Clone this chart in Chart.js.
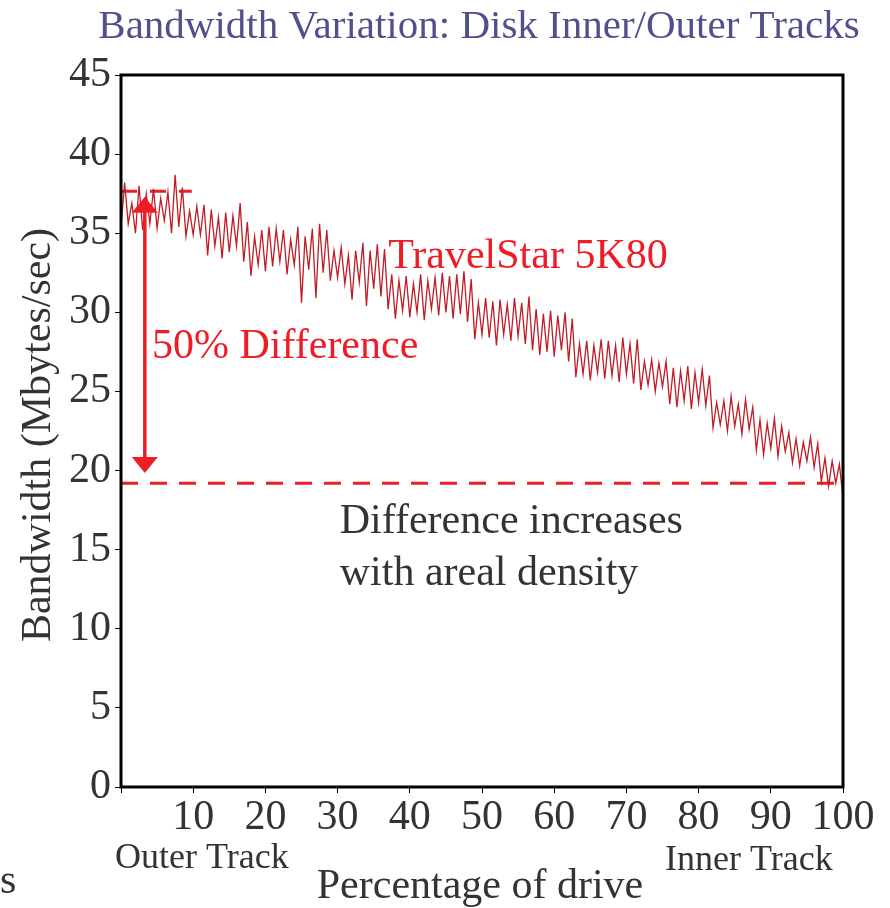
<!DOCTYPE html>
<html>
<head>
<meta charset="utf-8">
<script src="https://cdn.jsdelivr.net/npm/chart.js@4/dist/chart.umd.min.js"></script>
<style>
  html, body { margin: 0; padding: 0; background: #fff; }
  canvas { display: block; }
</style>
</head>
<body>
<canvas id="bw" width="890" height="908"></canvas>
<script>
const pct = [
  0, 0.5, 1, 1.5, 2, 2.5, 3, 3.5, 4, 4.5, 5, 5.5, 6, 6.5, 7, 7.5, 8, 8.5, 9, 9.5,
  10, 10.5, 11, 11.5, 12, 12.5, 13, 13.5, 14, 14.5, 15, 15.5, 16, 16.5, 17, 17.5, 18, 18.5, 19, 19.5,
  20, 20.5, 21, 21.5, 22, 22.5, 23, 23.5, 24, 24.5, 25, 25.5, 26, 26.5, 27, 27.5, 28, 28.5, 29, 29.5,
  30, 30.5, 31, 31.5, 32, 32.5, 33, 33.5, 34, 34.5, 35, 35.5, 36, 36.5, 37, 37.5, 38, 38.5, 39, 39.5,
  40, 40.5, 41, 41.5, 42, 42.5, 43, 43.5, 44, 44.5, 45, 45.5, 46, 46.5, 47, 47.5, 48, 48.5, 49, 49.5,
  50, 50.5, 51, 51.5, 52, 52.5, 53, 53.5, 54, 54.5, 55, 55.5, 56, 56.5, 57, 57.5, 58, 58.5, 59, 59.5,
  60, 60.5, 61, 61.5, 62, 62.5, 63, 63.5, 64, 64.5, 65, 65.5, 66, 66.5, 67, 67.5, 68, 68.5, 69, 69.5,
  70, 70.5, 71, 71.5, 72, 72.5, 73, 73.5, 74, 74.5, 75, 75.5, 76, 76.5, 77, 77.5, 78, 78.5, 79, 79.5,
  80, 80.5, 81, 81.5, 82, 82.5, 83, 83.5, 84, 84.5, 85, 85.5, 86, 86.5, 87, 87.5, 88, 88.5, 89, 89.5,
  90, 90.5, 91, 91.5, 92, 92.5, 93, 93.5, 94, 94.5, 95, 95.5, 96, 96.5, 97, 97.5, 98, 98.5, 99, 99.5, 100
];
const bandwidth = [
  35.4, 38.2, 35.6, 36.9, 35.0, 38.0, 35.2, 37.5, 35.6, 37.8, 35.3, 37.2, 35.8, 37.6, 35.0, 38.7, 35.4, 37.9, 34.8, 36.4,
  34.9, 36.7, 34.9, 36.8, 33.6, 36.5, 34.2, 36.0, 33.4, 36.3, 33.8, 36.1, 34.2, 36.9, 33.2, 35.7, 32.3, 34.8, 33.0, 35.2,
  32.6, 35.4, 32.9, 35.3, 33.2, 35.2, 32.4, 34.6, 33.0, 35.4, 30.6, 34.8, 32.7, 35.3, 30.9, 35.6, 32.5, 35.2, 32.0, 33.9,
  32.2, 34.1, 31.8, 33.6, 30.8, 33.9, 31.9, 34.4, 30.4, 33.9, 31.5, 34.3, 31.0, 34.0, 30.2, 32.4, 29.6, 32.0, 30.1, 32.3,
  29.7, 31.8, 30.0, 32.4, 29.5, 32.0, 30.2, 32.2, 29.8, 32.5, 30.0, 32.3, 29.6, 32.4, 29.9, 32.6, 29.4, 32.1, 28.3, 30.6,
  28.6, 30.9, 28.4, 30.7, 27.9, 30.8, 28.6, 30.5, 28.2, 30.9, 28.5, 30.6, 28.0, 31.0, 27.6, 30.2, 27.3, 29.9, 27.5, 30.1,
  27.2, 29.8, 27.6, 30.0, 26.9, 29.6, 25.9, 28.0, 26.1, 28.2, 25.7, 27.9, 26.2, 28.3, 25.8, 28.2, 26.0, 27.9, 25.6, 28.4,
  26.1, 28.0, 25.5, 28.3, 25.1, 26.9, 25.4, 27.0, 25.0, 26.8, 25.3, 26.9, 24.2, 26.5, 24.0, 26.3, 24.4, 26.6, 23.9, 26.2,
  24.3, 26.4, 24.1, 26.0, 22.7, 24.3, 22.9, 24.4, 22.5, 24.7, 22.8, 24.2, 22.3, 24.5, 22.6, 24.0, 21.3, 23.2, 21.0, 23.0,
  21.4, 23.3, 20.9, 22.8, 21.2, 22.4, 20.5, 22.0, 20.3, 21.8, 20.6, 22.1, 20.2, 21.7, 19.3, 20.8, 19.0, 20.6, 19.2, 20.4, 18.3
];

// reference levels for the "50% difference" marker
const outerLevel = 37.65;
const innerLevel = 19.2;
const outerRefX = [0, 9.8];
const innerRefX = [0, 100];
const arrowX = 3.3;
const arrowTop = 37.3;
const arrowBottom = 19.85;

const RED = '#ee1c25';
const LINE_RED = 'rgb(192, 28, 38)';
const INK = '#333333';
const SERIF = "'Liberation Serif', 'Times New Roman', serif";

const textPlugin = {
    id: 'slide_text',
    afterDraw: (chart) => {
        const ctx = chart.ctx;
        const x = chart.scales.x, y = chart.scales.y;
        const area = chart.chartArea;
        ctx.save();

        // frame round the plot
        ctx.strokeStyle = '#000';
        ctx.lineWidth = 3;
        ctx.strokeRect(area.left, area.top, area.right - area.left, area.bottom - area.top);

        // double-headed arrow
        const ax = x.getPixelForValue(arrowX);
        const y1 = y.getPixelForValue(arrowTop);
        const y2 = y.getPixelForValue(arrowBottom);
        const hw = 13, hh = 16;
        ctx.fillStyle = RED;
        ctx.strokeStyle = RED;
        ctx.lineWidth = 3.5;
        ctx.beginPath();
        ctx.moveTo(ax, y1 + hh - 2);
        ctx.lineTo(ax, y2 - hh + 2);
        ctx.stroke();
        ctx.beginPath();
        ctx.moveTo(ax, y1);
        ctx.lineTo(ax - hw, y1 + hh);
        ctx.lineTo(ax + hw, y1 + hh);
        ctx.closePath();
        ctx.fill();
        ctx.beginPath();
        ctx.moveTo(ax, y2);
        ctx.lineTo(ax - hw, y2 - hh);
        ctx.lineTo(ax + hw, y2 - hh);
        ctx.closePath();
        ctx.fill();

        ctx.textBaseline = 'alphabetic';

        // title
        ctx.fillStyle = '#50508c';
        ctx.font = `41px ${SERIF}`;
        ctx.textAlign = 'center';
        ctx.fillText('Bandwidth Variation: Disk Inner/Outer Tracks', 479, 38);

        // annotations
        ctx.textAlign = 'left';
        ctx.fillStyle = RED;
        ctx.font = `42px ${SERIF}`;
        ctx.fillText('TravelStar 5K80', x.getPixelForValue(37.0), y.getPixelForValue(32.8));
        ctx.fillText('50% Difference', x.getPixelForValue(4.3), y.getPixelForValue(27.1));
        ctx.fillStyle = INK;
        ctx.fillText('Difference increases', x.getPixelForValue(30.3), y.getPixelForValue(16.05));
        ctx.fillText('with areal density', x.getPixelForValue(30.3), y.getPixelForValue(12.77));

        // axis captions
        ctx.font = `36px ${SERIF}`;
        ctx.fillText('Outer Track', 115, 868);
        ctx.fillText('Inner Track', 665, 870);
        ctx.font = `42px ${SERIF}`;
        ctx.textAlign = 'center';
        ctx.fillText('Percentage of drive', 480, 898);
        ctx.textAlign = 'left';
        ctx.fillText('s', 0, 893);

        ctx.save();
        ctx.translate(50, 435);
        ctx.rotate(-Math.PI / 2);
        ctx.textAlign = 'center';
        ctx.fillText('Bandwidth (Mbytes/sec)', 0, 0);
        ctx.restore();

        ctx.restore();
    }
};

const points = pct.map((p, i) => ({ x: p, y: bandwidth[i] }));

new Chart(document.getElementById('bw'), {
    type: 'line',
    data: {
        datasets: [
            {
                data: points,
                borderColor: LINE_RED,
                borderWidth: 1.3,
                pointRadius: 0,
                tension: 0
            },
            {
                data: outerRefX.map(p => ({ x: p, y: outerLevel })),
                borderColor: RED,
                borderWidth: 3,
                borderDash: [16, 13],
                pointRadius: 0
            },
            {
                data: innerRefX.map(p => ({ x: p, y: innerLevel })),
                borderColor: RED,
                borderWidth: 3,
                borderDash: [17, 12],
                pointRadius: 0
            }
        ]
    },
    options: {
        responsive: false,
        animation: false,
        events: [],
        layout: { padding: { left: 0, right: 47, top: 75, bottom: 0 } },
        plugins: {
            legend: { display: false },
            tooltip: { enabled: false },
            title: { display: false }
        },
        scales: {
            x: {
                type: 'linear',
                min: 0,
                max: 100,
                ticks: {
                    stepSize: 10,
                    autoSkip: false,
                    maxRotation: 0,
                    padding: 0,
                    color: INK,
                    font: { family: SERIF, size: 42 },
                    callback: v => (v === 0 ? '' : v)
                },
                grid: { drawOnChartArea: false, tickLength: 6, color: '#000' },
                border: { display: false },
                afterFit: s => { s.height = 121; }
            },
            y: {
                min: 0,
                max: 45,
                ticks: {
                    stepSize: 5,
                    padding: 4,
                    color: INK,
                    font: { family: SERIF, size: 42 }
                },
                grid: { drawOnChartArea: false, tickLength: 6, color: '#000' },
                border: { display: false },
                afterFit: s => { s.width = 121; }
            }
        }
    },
    plugins: [textPlugin]
});
</script>
</body>
</html>
